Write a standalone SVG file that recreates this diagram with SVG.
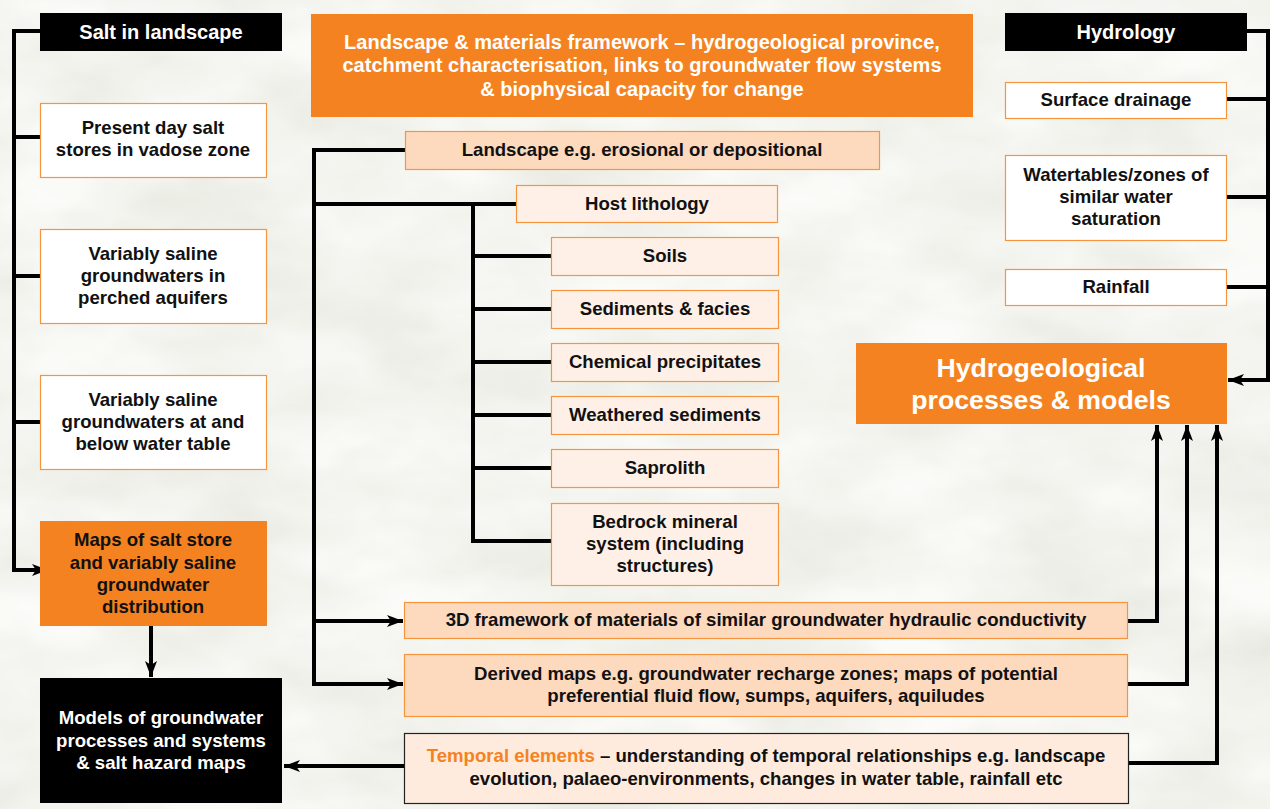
<svg xmlns="http://www.w3.org/2000/svg" width="1270" height="809" viewBox="0 0 1270 809">
<defs>
<filter id="tex" x="0" y="0" width="100%" height="100%" filterUnits="userSpaceOnUse">
<feTurbulence type="fractalNoise" baseFrequency="0.006 0.012" numOctaves="4" seed="7" result="n"/>
<feColorMatrix in="n" type="matrix" values="0.30 0 0 0 0.77  0.30 0 0 0 0.78  0.36 0 0 0 0.72  0 0 0 0 1"/>
</filter>
<marker id="ah" markerUnits="userSpaceOnUse" markerWidth="18" markerHeight="14" refX="16" refY="6" orient="auto">
<path d="M0,0 L16,6 L0,12 L4,6 z" fill="#000"/>
</marker>
<style>
.t{font-family:"Liberation Sans",Arial,sans-serif;font-weight:bold;text-anchor:middle;}
.b{font-size:18.6px;fill:#111;}
.w{fill:#fff;}
.hd{font-size:20px;fill:#fff;}
.blk{fill:#000;}
.wbox{fill:#fff;stroke:#F7953F;stroke-width:1.2;}
.pch{fill:#FDD9BE;stroke:#F7953F;stroke-width:1.2;}
.lt{fill:#FEF0E6;stroke:#F7953F;stroke-width:1.2;}
.org{fill:#F58220;}
.con{fill:none;stroke:#000;stroke-width:4;}
</style>
</defs>
<rect x="0" y="0" width="1270" height="809" fill="#E9E9DA"/>
<rect x="0" y="0" width="1270" height="809" filter="url(#tex)" opacity="0.85"/>

<g id="connectors">
<path class="con" d="M40,31 H14 V570 H48" marker-end="url(#ah)"/>
<path class="con" d="M40,137 H14"/>
<path class="con" d="M40,276 H14"/>
<path class="con" d="M40,422 H14"/>
<path class="con" d="M151,626 V677" marker-end="url(#ah)"/>
<path class="con" d="M1247,31 H1268 V380 H1228" marker-end="url(#ah)"/>
<path class="con" d="M1227,99 H1268"/>
<path class="con" d="M1227,197 H1268"/>
<path class="con" d="M1227,287 H1268"/>
<path class="con" d="M405,150 H314 V684 H403" marker-end="url(#ah)"/>
<path class="con" d="M314,204 H516"/>
<path class="con" d="M314,621 H403" marker-end="url(#ah)"/>
<path class="con" d="M473,204 V541 H551"/>
<path class="con" d="M473,256 H551"/>
<path class="con" d="M473,309 H551"/>
<path class="con" d="M473,362 H551"/>
<path class="con" d="M473,415 H551"/>
<path class="con" d="M473,468 H551"/>
<path class="con" d="M1127,621 H1157 V425" marker-end="url(#ah)"/>
<path class="con" d="M1127,684 H1187 V425" marker-end="url(#ah)"/>
<path class="con" d="M1129,763 H1217 V425" marker-end="url(#ah)"/>
<path class="con" d="M404,766 H284" marker-end="url(#ah)"/>
</g>

<g id="salt-in-landscape">
<rect class="blk" x="40" y="13" width="242" height="38"/>
<text class="t hd" x="161" y="38.5">Salt in landscape</text>
</g>
<g id="present-day">
<rect class="wbox" x="40.5" y="103.5" width="226" height="74"/>
<text class="t b" x="153" y="133.5">Present day salt</text>
<text class="t b" x="153" y="155.5">stores in vadose zone</text>
</g>
<g id="perched">
<rect class="wbox" x="40.5" y="229.5" width="226" height="94"/>
<text class="t b" x="153" y="259.5">Variably saline</text>
<text class="t b" x="153" y="281.5">groundwaters in</text>
<text class="t b" x="153" y="303.5">perched aquifers</text>
</g>
<g id="water-table">
<rect class="wbox" x="40.5" y="375.5" width="226" height="94"/>
<text class="t b" x="153" y="405.5">Variably saline</text>
<text class="t b" x="153" y="427.5">groundwaters at and</text>
<text class="t b" x="153" y="449.5">below water table</text>
</g>
<g id="maps-salt">
<rect class="org" x="40" y="521" width="227" height="105"/>
<text class="t b" x="153" y="545.5">Maps of salt store</text>
<text class="t b" x="153" y="568.5">and variably saline</text>
<text class="t b" x="153" y="590.5">groundwater</text>
<text class="t b" x="153" y="612.5">distribution</text>
</g>
<g id="models">
<rect class="blk" x="40" y="678" width="242" height="125"/>
<text class="t b w" x="161" y="723.5">Models of groundwater</text>
<text class="t b w" x="161" y="746.5">processes and systems</text>
<text class="t b w" x="161" y="768.5">&amp; salt hazard maps</text>
</g>

<g id="framework">
<rect class="org" x="311" y="14" width="662" height="103"/>
<text class="t hd" x="642" y="48.5">Landscape &amp; materials framework – hydrogeological province,</text>
<text class="t hd" x="642" y="71.5">catchment characterisation, links to groundwater flow systems</text>
<text class="t hd" x="642" y="95.5">&amp; biophysical capacity for change</text>
</g>

<g id="hydrology">
<rect class="blk" x="1005" y="13" width="242" height="38"/>
<text class="t hd" x="1126" y="38.5">Hydrology</text>
</g>
<g id="surface-drainage">
<rect class="wbox" x="1005.5" y="82.5" width="221" height="36"/>
<text class="t b" x="1116" y="105.5">Surface drainage</text>
</g>
<g id="watertables">
<rect class="wbox" x="1005.5" y="155.5" width="221" height="85"/>
<text class="t b" x="1116" y="180.5">Watertables/zones of</text>
<text class="t b" x="1116" y="202.5">similar water</text>
<text class="t b" x="1116" y="224.5">saturation</text>
</g>
<g id="rainfall">
<rect class="wbox" x="1005.5" y="269.5" width="221" height="36"/>
<text class="t b" x="1116" y="292.5">Rainfall</text>
</g>
<g id="hydrogeological">
<rect class="org" x="856" y="343" width="371" height="81"/>
<text class="t w" style="font-size:26.7px" x="1041" y="376.5">Hydrogeological</text>
<text class="t w" style="font-size:26.7px" x="1041" y="408.5">processes &amp; models</text>
</g>

<g id="landscape">
<rect class="pch" x="405.5" y="131.5" width="474" height="38"/>
<text class="t b" x="642" y="155.5">Landscape e.g. erosional or depositional</text>
</g>
<g id="host-lithology">
<rect class="lt" x="516.5" y="185.5" width="261" height="37"/>
<text class="t b" x="647" y="209.5">Host lithology</text>
</g>
<g id="soils">
<rect class="lt" x="551.5" y="237.5" width="227" height="38"/>
<text class="t b" x="665" y="261.5">Soils</text>
</g>
<g id="sediments">
<rect class="lt" x="551.5" y="290.5" width="227" height="38"/>
<text class="t b" x="665" y="314.5">Sediments &amp; facies</text>
</g>
<g id="chemical">
<rect class="lt" x="551.5" y="343.5" width="227" height="38"/>
<text class="t b" x="665" y="367.5">Chemical precipitates</text>
</g>
<g id="weathered">
<rect class="lt" x="551.5" y="396.5" width="227" height="38"/>
<text class="t b" x="665" y="420.5">Weathered sediments</text>
</g>
<g id="saprolith">
<rect class="lt" x="551.5" y="449.5" width="227" height="38"/>
<text class="t b" x="665" y="473.5">Saprolith</text>
</g>
<g id="bedrock">
<rect class="lt" x="551.5" y="503.5" width="227" height="82"/>
<text class="t b" x="665" y="527.5">Bedrock mineral</text>
<text class="t b" x="665" y="549.5">system (including</text>
<text class="t b" x="665" y="571.5">structures)</text>
</g>

<g id="framework-3d">
<rect class="pch" x="404.5" y="602.5" width="723" height="36"/>
<text class="t b" x="766" y="625.5">3D framework of materials of similar groundwater hydraulic conductivity</text>
</g>
<g id="derived-maps">
<rect class="pch" x="404.5" y="654.5" width="723" height="62"/>
<text class="t b" x="766" y="679.5">Derived maps e.g. groundwater recharge zones; maps of potential</text>
<text class="t b" x="766" y="701.5">preferential fluid flow, sumps, aquifers, aquiludes</text>
</g>
<g id="temporal">
<rect x="404.5" y="733.5" width="724" height="70" fill="#FEEBDD" stroke="#222" stroke-width="1.2"/>
<text class="t b" x="766" y="761.5"><tspan fill="#F58220">Temporal elements</tspan> – understanding of temporal relationships e.g. landscape</text>
<text class="t b" x="766" y="784.5">evolution, palaeo-environments, changes in water table, rainfall etc</text>
</g>
</svg>
